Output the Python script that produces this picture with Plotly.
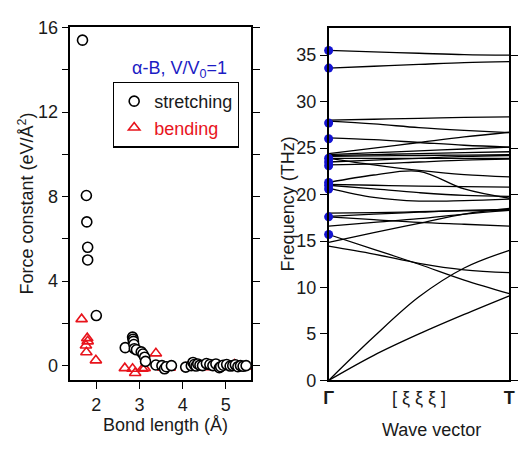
import plotly.graph_objects as go

# ---------------- Left panel data ----------------
stretch_x = [1.68, 1.77, 1.78, 1.80, 1.80, 2.00, 2.67, 2.84, 2.85, 2.86, 2.87, 2.88, 2.93,
             3.04, 3.08, 3.12, 3.14, 3.38, 3.52, 3.58, 3.62, 3.74, 4.07, 4.20, 4.24, 4.27,
             4.31, 4.35, 4.40, 4.46, 4.55, 4.63, 4.70, 4.77, 4.85, 4.88, 4.94, 5.02, 5.10,
             5.16, 5.22, 5.28, 5.34, 5.40, 5.47]
stretch_y = [15.4, 8.05, 6.8, 5.6, 5.0, 2.37, 0.85, 1.35, 1.25, 1.15, 1.0, 0.8, 0.75,
             0.65, 0.55, 0.4, 0.2, 0.03, 0.0, -0.15, -0.05, 0.0, -0.07, 0.0, 0.15, 0.05,
             -0.02, 0.08, 0.02, 0.0, 0.1, 0.05, 0.0, 0.08, -0.1, -0.05, 0.02, 0.05, -0.02,
             0.0, 0.04, -0.05, 0.0, -0.03, 0.0]

bend_x = [1.66, 1.79, 1.80, 1.76, 1.77, 1.99, 2.66, 2.84, 2.90, 3.07, 3.12, 3.38, 3.55,
          3.70, 4.10, 4.30, 4.60, 4.90, 5.20, 5.45]
bend_y = [2.2, 1.3, 1.15, 0.95, 0.63, 0.25, -0.12, -0.15, -0.35, -0.15, -0.12, 0.58, -0.1,
          -0.1, -0.1, -0.05, -0.08, -0.05, 0.05, -0.05]

force_ticks = [0, 4, 8, 12, 16]
force_minor = [2, 6, 10, 14]
bond_ticks = [2, 3, 4, 5]

# ---------------- Right panel data ----------------
xi = [0.0, 0.25, 0.5, 0.75, 1.0]
bands = [
    [35.5, 35.35, 35.2, 35.05, 35.0],
    [33.6, 33.8, 34.0, 34.2, 34.3],
    [28.0, 28.1, 28.2, 28.3, 28.35],
    [27.9, 27.6, 27.2, 26.9, 26.65],
    [26.1, 25.9, 25.6, 25.3, 25.1],
    [24.4, 25.0, 25.6, 26.2, 26.7],
    [24.3, 24.5, 24.7, 24.9, 25.1],
    [24.2, 24.3, 24.4, 24.5, 24.6],
    [24.1, 24.15, 24.2, 24.25, 24.3],
    [23.9, 23.9, 23.9, 23.9, 23.9],
    [23.5, 23.7, 23.9, 24.1, 24.2],
    [23.2, 23.3, 23.5, 23.7, 23.8],
    [23.9, 23.2, 22.6, 22.15, 21.9],
    [21.3, 22.1, 22.5, 20.6, 19.6],
    [21.1, 21.0, 20.9, 20.85, 20.8],
    [21.0, 20.6, 20.2, 19.9, 19.8],
    [20.7, 19.7, 19.3, 19.35, 19.5],
    [18.0, 18.05, 18.15, 18.25, 18.3],
    [17.65, 17.9, 18.1, 18.3, 18.4],
    [17.6, 17.3, 17.0, 16.8, 16.6],
    [16.6, 17.0, 17.4, 17.9, 18.3],
    [14.85, 15.9, 16.9, 17.9, 18.5],
    [15.7, 14.1, 12.5, 10.8, 9.35],
    [14.45, 13.6, 12.6, 11.9, 11.6],
    [0.0, 4.7, 9.0, 12.1, 14.0],
    [0.0, 2.7, 5.0, 7.1, 9.1],
]
gamma_modes = [35.5, 33.6, 27.7, 26.0, 23.9, 23.5, 23.1, 21.3, 21.0, 20.6, 17.6, 15.7]
freq_ticks = [0, 5, 10, 15, 20, 25, 30, 35]
wave_ticks = [0.0, 0.5, 1.0]
wave_labels = ["<b>Γ</b>", "[ ξ ξ ξ ]", "<b>T</b>"]

W, H = 518, 449
FONT = "Liberation Sans, Arial, sans-serif"
FS = 18
TXT = "#1a1a1a"

fig = go.Figure()

fig.add_trace(go.Scatter(
    x=bend_x, y=bend_y, mode="markers", name="<span style='color:#e8141c'>bending</span>",
    legendrank=2, xaxis="x", yaxis="y",
    marker=dict(symbol="triangle-up-open", size=10, color="#e8141c", line=dict(width=1.6)),
))
fig.add_trace(go.Scatter(
    x=stretch_x, y=stretch_y, mode="markers", name="stretching", legendrank=1,
    xaxis="x", yaxis="y",
    marker=dict(symbol="circle", size=10, color="white", line=dict(width=1.6, color="black")),
))

for b in bands:
    fig.add_trace(go.Scatter(
        x=xi, y=b, mode="lines", line=dict(color="black", width=1.3, shape="spline"),
        xaxis="x2", yaxis="y2", showlegend=False, hoverinfo="skip",
    ))
fig.add_trace(go.Scatter(
    x=[0.0] * len(gamma_modes), y=gamma_modes, mode="markers", cliponaxis=False,
    marker=dict(size=9, color="#1414d2"), xaxis="x2", yaxis="y2", showlegend=False,
))

xl0, xl1 = 66.7 / W, 250.7 / W
xr0, xr1 = 330.0 / W, 514.3 / W
yb = (H - 387.7) / H
ytl = (H - 18.3) / H
ytr = (H - 19.0) / H

axcommon = dict(showline=True, linecolor="black", linewidth=1.5, showgrid=False,
                zeroline=False, tickcolor="black", tickwidth=1.3,
                tickfont=dict(family=FONT, size=FS, color=TXT))

fig.update_layout(
    width=W, height=H, margin=dict(l=0, r=0, t=0, b=0),
    paper_bgcolor="white", plot_bgcolor="white",
    font=dict(family=FONT, size=FS, color=TXT),
    xaxis=dict(domain=[xl0, xl1], range=[1.4, 5.58], anchor="y", tickvals=bond_ticks,
               ticks="outside", ticklen=7, mirror=True, **axcommon),
    yaxis=dict(domain=[yb, ytl], range=[-0.7, 16], anchor="x", tickvals=force_ticks,
               ticks="outside", ticklen=7, mirror="ticks",
               minor=dict(tickvals=force_minor, ticks="outside", ticklen=7,
                          tickcolor="black", tickwidth=1.3),
               **axcommon),
    xaxis2=dict(domain=[xr0, xr1], range=[0, 1], anchor="y2", tickvals=wave_ticks,
                ticktext=wave_labels, ticks="", mirror=True, **axcommon),
    yaxis2=dict(domain=[yb, ytr], range=[0, 37.9], anchor="x2", tickvals=freq_ticks,
                ticks="outside", ticklen=7, mirror="ticks", **axcommon),
    legend=dict(x=110 / W, y=(H - 75) / H, xanchor="left", yanchor="top",
                bordercolor="black", borderwidth=1.3, bgcolor="white",
                font=dict(family=FONT, size=FS, color=TXT), itemwidth=30,
                tracegroupgap=0),
    showlegend=True,
)

def ann(text, x, y, angle=0, color=TXT, size=FS):
    fig.add_annotation(text=text, x=x / W, y=1 - y / H, xref="paper", yref="paper",
                       showarrow=False, textangle=angle, xanchor="center", yanchor="middle",
                       font=dict(family=FONT, size=size, color=color))

ann("α-B, V/V<sub>0</sub>=1", 178, 62, color="#1c1cc4")
ann("Force constant (eV/Å<sup>2</sup>)", 22, 203, angle=-90)
ann("Bond length (Å)", 164, 434)
ann("Frequency (THz)", 289, 203, angle=-90)
ann("Wave vector", 435, 440)

fig.write_html("out.html", config={"displayModeBar": False},
               post_script="document.body.style.margin='0';")
